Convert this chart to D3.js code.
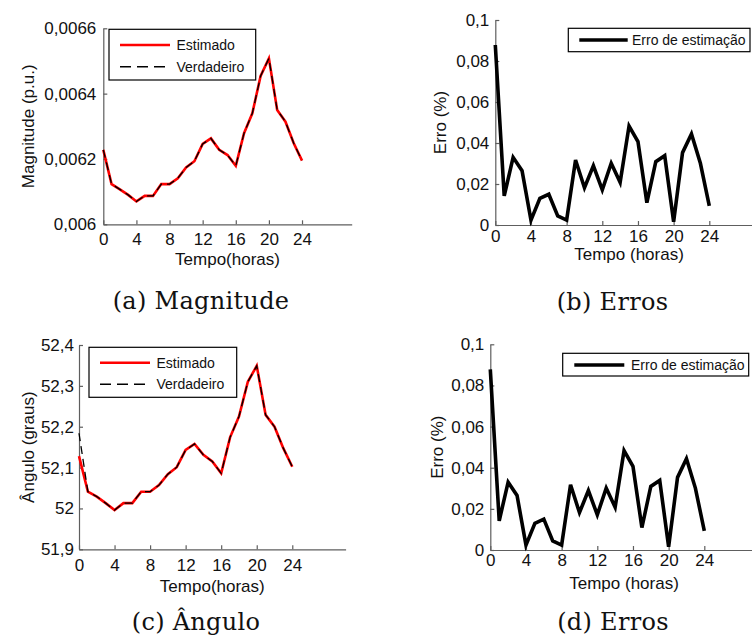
<!DOCTYPE html>
<html>
<head>
<meta charset="utf-8">
<script src="https://cdn.jsdelivr.net/npm/d3@7"></script>
<style>
  html, body { margin: 0; padding: 0; background: #fff; }
  svg { display: block; }
</style>
</head>
<body>
<svg id="chart" width="752" height="643"></svg>
<script>
// ---------- DATA ----------
const hours = d3.range(0, 25);
const xTicks = [0, 4, 8, 12, 16, 20, 24];

const magEstimado = [0.006228, 0.006123, 0.006107, 0.006090, 0.006070, 0.006087, 0.006087, 0.006123, 0.006123, 0.006141, 0.006174, 0.006193, 0.006246, 0.006263, 0.006228, 0.006212, 0.006179, 0.006279, 0.006340, 0.006454, 0.006508, 0.006350, 0.006314, 0.006248, 0.006195];
const magVerdadeiro = [0.006228, 0.006123, 0.006107, 0.006090, 0.006070, 0.006087, 0.006087, 0.006123, 0.006123, 0.006141, 0.006174, 0.006193, 0.006246, 0.006263, 0.006228, 0.006212, 0.006179, 0.006279, 0.006340, 0.006454, 0.006508, 0.006350, 0.006314, 0.006248, 0.006195];
const magTicks = [0.006, 0.0062, 0.0064, 0.0066];

const angEstimado = [52.128, 52.041, 52.029, 52.013, 51.996, 52.013, 52.013, 52.041, 52.041, 52.057, 52.084, 52.101, 52.143, 52.158, 52.131, 52.115, 52.086, 52.174, 52.225, 52.310, 52.349, 52.229, 52.200, 52.147, 52.102];
const angVerdadeiro = [52.184, 52.041, 52.029, 52.013, 51.996, 52.013, 52.013, 52.041, 52.041, 52.057, 52.084, 52.101, 52.143, 52.158, 52.131, 52.115, 52.086, 52.174, 52.225, 52.310, 52.349, 52.229, 52.200, 52.147, 52.102];
const angTicks = [51.9, 52.0, 52.1, 52.2, 52.3, 52.4];

const erroMag = [0.0878, 0.0142, 0.0330, 0.0265, 0.0024, 0.0130, 0.0150, 0.0044, 0.0024, 0.0317, 0.0182, 0.0289, 0.0171, 0.0301, 0.0208, 0.0483, 0.0407, 0.0109, 0.0309, 0.0338, 0.0016, 0.0353, 0.0444, 0.0301, 0.0093];
const erroAng = [0.0878, 0.0142, 0.0330, 0.0265, 0.0024, 0.0130, 0.0150, 0.0044, 0.0024, 0.0317, 0.0182, 0.0289, 0.0171, 0.0301, 0.0208, 0.0483, 0.0407, 0.0109, 0.0309, 0.0338, 0.0016, 0.0353, 0.0444, 0.0301, 0.0093];
const erroTicks = [0, 0.02, 0.04, 0.06, 0.08, 0.1];

const captions = ["(a) Magnitude", "(b) Erros", "(c) \u00C2ngulo", "(d) Erros"];

// ---------- DRAW ----------
const svg = d3.select("#chart");
const SANS = "'Liberation Sans', Arial, Helvetica, sans-serif";
const SERIF = "'DejaVu Serif', 'Liberation Serif', serif";
const AXIS_COLOR = "#5e5e5e";
const FS = 17;

const fmt = d => String(+d.toFixed(4)).replace(".", ",");

function panel(cfg) {
  const g = svg.append("g");
  const x = d3.scaleLinear().domain([0, 30]).range([cfg.x0, cfg.x0 + cfg.w]);
  const y = d3.scaleLinear().domain(cfg.yDomain).range([cfg.yBottom, cfg.yTop]);

  const xa = g.append("g").attr("transform", `translate(0,${cfg.yBottom})`)
    .call(d3.axisBottom(x).tickValues(xTicks).tickFormat(d3.format("d"))
      .tickSizeInner(-4).tickSizeOuter(0).tickPadding(cfg.xPad));
  const ya = g.append("g").attr("transform", `translate(${cfg.x0},0)`)
    .call(d3.axisLeft(y).tickValues(cfg.yTicks).tickFormat(fmt)
      .tickSizeInner(-4).tickSizeOuter(0).tickPadding(cfg.yPad));
  [xa, ya].forEach(a => {
    a.select(".domain").attr("stroke", AXIS_COLOR).attr("stroke-width", 1.2);
    a.selectAll(".tick line").attr("stroke", AXIS_COLOR).attr("stroke-width", 1.2);
    a.selectAll("text").attr("font-family", SANS).attr("font-size", FS).attr("fill", "#111");
  });

  g.append("text").attr("x", (cfg.x0 + cfg.x0 + cfg.w) / 2).attr("y", cfg.xLabelY)
    .attr("text-anchor", "middle").attr("font-family", SANS).attr("font-size", FS).attr("fill", "#111")
    .text(cfg.xLabel);
  g.append("text")
    .attr("transform", `translate(${cfg.yLabelX},${(cfg.yTop + cfg.yBottom) / 2}) rotate(-90)`)
    .attr("text-anchor", "middle").attr("font-family", SANS).attr("font-size", FS).attr("fill", "#111")
    .text(cfg.yLabel);

  const line = d3.line().x((d, i) => x(hours[i])).y(d => y(d));

  cfg.series.forEach(s => {
    g.append("path").datum(s.values).attr("d", line)
      .attr("fill", "none").attr("stroke", s.color).attr("stroke-width", s.width)
      .attr("stroke-dasharray", s.dash || null).attr("stroke-linejoin", "miter");
  });

  const L = cfg.legend;
  g.append("rect").attr("x", L.x).attr("y", L.y).attr("width", L.w).attr("height", L.h)
    .attr("fill", "#fff").attr("stroke", "#000").attr("stroke-width", 1.2);
  cfg.series.forEach((s, i) => {
    const ly = L.y + L.rowY[i];
    g.append("line").attr("x1", L.lx1).attr("x2", L.lx2).attr("y1", ly).attr("y2", ly)
      .attr("stroke", s.color).attr("stroke-width", s.legendWidth || s.width)
      .attr("stroke-dasharray", s.legendDash || s.dash || null);
    g.append("text").attr("x", L.tx).attr("y", ly).attr("dy", "0.35em")
      .attr("font-family", SANS).attr("font-size", 14).attr("fill", "#111").text(s.name);
  });

  svg.append("text").attr("x", cfg.capX).attr("y", cfg.capY).attr("text-anchor", "middle")
    .attr("font-family", SERIF).attr("font-size", 24).attr("fill", "#111")
    .attr("letter-spacing", 0.3).text(cfg.caption);
}

panel({
  x0: 103.3, w: 248.4, yTop: 28.3, yBottom: 224.3,
  yDomain: [0.006, 0.0066], yTicks: magTicks, xPad: 9, yPad: 7,
  xLabel: "Tempo(horas)", xLabelY: 265, yLabel: "Magnitude (p.u.)", yLabelX: 34,
  series: [
    { name: "Estimado", values: magEstimado, color: "#ff0000", width: 2.6 },
    { name: "Verdadeiro", values: magVerdadeiro, color: "#000", width: 1.3, dash: "8,5", legendWidth: 1.6, legendDash: "11,6" }
  ],
  legend: { x: 109, y: 29.3, w: 146.7, h: 50.7, rowY: [15.7, 37.4], lx1: 120, lx2: 170, tx: 176.5 },
  caption: captions[0], capX: 201, capY: 309
});

panel({
  x0: 495.3, w: 267.5, yTop: 20, yBottom: 225,
  yDomain: [0, 0.1], yTicks: erroTicks, xPad: 5, yPad: 6,
  xLabel: "Tempo (horas)", xLabelY: 260, yLabel: "Erro (%)", yLabelX: 446,
  series: [
    { name: "Erro de estimação", values: erroMag, color: "#000", width: 3.6 }
  ],
  legend: { x: 568.3, y: 28.3, w: 181.7, h: 23.4, rowY: [11.7], lx1: 579.3, lx2: 627.7, tx: 632 },
  caption: captions[1], capX: 612.5, capY: 310
});

panel({
  x0: 79, w: 266.6, yTop: 345, yBottom: 549.3,
  yDomain: [51.9, 52.4], yTicks: angTicks, xPad: 10, yPad: 5,
  xLabel: "Tempo(horas)", xLabelY: 592, yLabel: "\u00C2ngulo (graus)", yLabelX: 34,
  series: [
    { name: "Estimado", values: angEstimado, color: "#ff0000", width: 2.6 },
    { name: "Verdadeiro", values: angVerdadeiro, color: "#000", width: 1.3, dash: "8,5", legendWidth: 1.6, legendDash: "11,6" }
  ],
  legend: { x: 89, y: 347.3, w: 147.7, h: 50, rowY: [15.4, 37], lx1: 100, lx2: 150, tx: 156.5 },
  caption: captions[2], capX: 196, capY: 630
});

panel({
  x0: 490.3, w: 267.5, yTop: 344.3, yBottom: 550,
  yDomain: [0, 0.1], yTicks: erroTicks, xPad: 4, yPad: 6,
  xLabel: "Tempo (horas)", xLabelY: 589, yLabel: "Erro (%)", yLabelX: 443,
  series: [
    { name: "Erro de estimação", values: erroAng, color: "#000", width: 3.6 }
  ],
  legend: { x: 562.7, y: 353.3, w: 186, h: 22.7, rowY: [11.7], lx1: 574.3, lx2: 624.3, tx: 631 },
  caption: captions[3], capX: 613, capY: 630
});
</script>
</body>
</html>
